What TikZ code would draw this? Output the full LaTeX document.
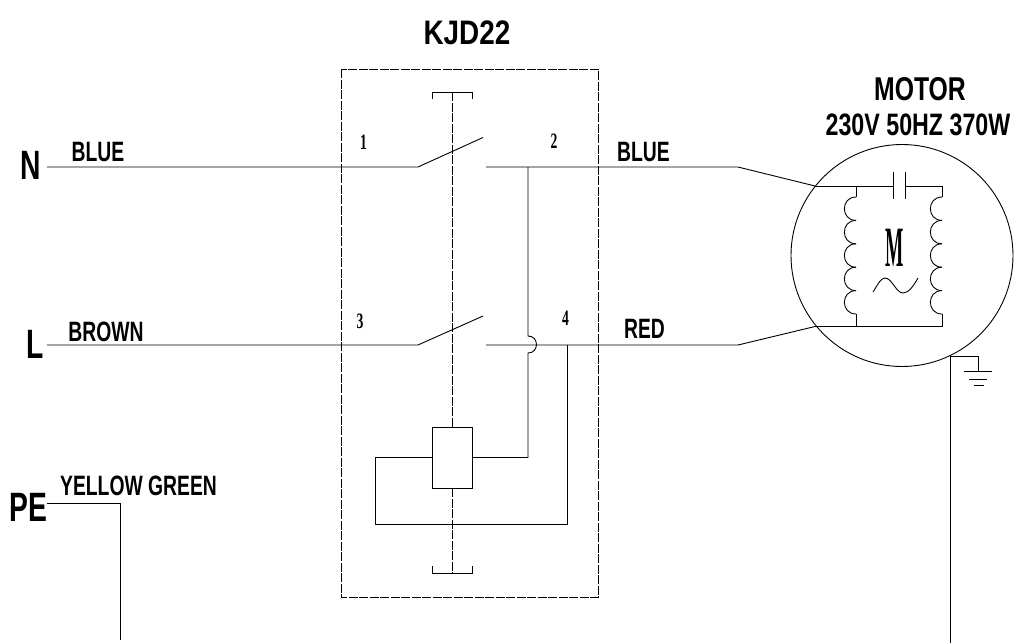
\documentclass[tikz,border=0pt]{standalone}
\usepackage{fontspec}
\setmainfont[FakeStretch=0.69]{Liberation Sans}
\newfontfamily\titlefont[FakeStretch=0.82]{Liberation Sans}
\newfontfamily\ratefont[FakeStretch=0.75]{Liberation Sans}
\newfontfamily\numfont[FakeStretch=0.62]{Liberation Serif}
\newfontfamily\symfont[FakeStretch=0.34]{Liberation Serif}
\usetikzlibrary{shapes}

\begin{document}
\begin{tikzpicture}
[x=1pt,y=-1pt,line width=0.9pt,%
  lineDecorate/.style={-,line width=0.9pt},%
  axisDecorate/.style={-,line width=0.9pt,dash pattern=on 9pt off 1.5pt},%
  boxDecorate/.style={-,line width=0.9pt,dash pattern=on 9pt off 1.5pt},%
  relayDecorate/.style={shape=rectangle,draw,fill=white,inner sep=0pt,minimum width=40pt,minimum height=61pt},%
  motorDecorate/.style={shape=circle,draw,inner sep=0pt,minimum size=222pt},%
  termLabel/.style={anchor=base,inner sep=0pt,font=\bfseries\fontsize{41}{41}\selectfont},%
  wireLabel/.style={anchor=base,inner sep=0pt,font=\bfseries\fontsize{28}{28}\selectfont},%
  motorLabel/.style={anchor=base,inner sep=0pt,font=\ratefont\bfseries\fontsize{33}{33}\selectfont},%
  rateLabel/.style={anchor=base,inner sep=0pt,font=\ratefont\bfseries\fontsize{31}{31}\selectfont},%
  titleLabel/.style={anchor=base,inner sep=0pt,font=\titlefont\bfseries\fontsize{34}{34}\selectfont},%
  pinLabel/.style={anchor=base,inner sep=0pt,font=\numfont\bfseries\fontsize{22}{22}\selectfont}]
\useasboundingbox (0,0) rectangle (1017,643);
%% nodes
\node[motorDecorate] (motor) at (902,255.5) {};
\node[relayDecorate] (relay) at (452,457.5) {};
%% points on the wires
\foreach \nodename/\x/\y in {
  boxA/341/69, boxB/598/597,
  inN/47/167, swNa/418/167, swNb/483/137.5, outN/486/167, tapN/528/167, bendN/738/167,
  inL/47/345, swLa/418/345, swLb/483/316, outL/486/345, bendL/738/345,
  bumpA/528/336, bumpB/528/353, tapL/567/345,
  loopA/375/457.5, loopB/375/524, loopC/567/524, feedA/528/457.5,
  axisT/452/92, axisB/452/573,
  brTa/432/99, brTb/432/92, brTc/472/92, brTd/472/99,
  brBa/432/566, brBb/432/573, brBc/472/573, brBd/472/566,
  mTopL/815/186, capL/893.5/186, capR/905/186, mTopR/942/186, mTopS/856/186,
  capLa/893.5/172, capLb/893.5/199, capRa/905/172, capRb/905/199,
  mBotL/815/326.5, mBotM/856/326.5, mBotR/942/326.5,
  coilLa/856/197, coilRa/942/197, coilLb/856/314, coilRb/942/314,
  peA/47/503, peB/120/503, peC/120/640,
  gndA/950/356, gndB/978/356, gndC/978/371, gndD/950/643,
  gA/964/371, gB/992/371, gC/969/379, gD/987/379, gE/974/385, gF/984/385,
  sinA/873/292, sinB/918/278}
{
  \coordinate (\nodename) at (\x,\y);
}
%% dashed enclosure and linkage
\draw[boxDecorate] (boxA) rectangle (boxB);
\draw[axisDecorate] (axisT) -- (relay.north);
\draw[axisDecorate] (relay.south) -- (axisB);
\draw[lineDecorate] (brTa) -- (brTb) -- (brTc) -- (brTd);
\draw[lineDecorate] (brBa) -- (brBb) -- (brBc) -- (brBd);
%% supply wires and contacts
\draw[lineDecorate] (inN) -- (swNa) -- (swNb);
\draw[lineDecorate] (outN) -- (bendN) -- (mTopL);
\draw[lineDecorate] (inL) -- (swLa) -- (swLb);
\draw[lineDecorate] (outL) -- (bendL) -- (mBotL);
%% relay coil feed
\draw[lineDecorate] (tapN) -- (bumpA) to[out=0,in=0,looseness=1.7] (bumpB) -- (feedA) -- (relay.east);
\draw[lineDecorate] (relay.west) -- (loopA) -- (loopB) -- (loopC) -- (tapL);
%% motor windings
\draw[lineDecorate] (mTopL) -- (capL);
\draw[lineDecorate] (capR) -- (mTopR) -- (coilRa);
\draw[lineDecorate] (capLa) -- (capLb);
\draw[lineDecorate] (capRa) -- (capRb);
\draw[lineDecorate] (mTopS) -- (coilLa);
\draw[lineDecorate] (mBotL) -- (mBotR) -- (coilRb);
\draw[lineDecorate] (mBotM) -- (coilLb);
\foreach \xcoil in {856,942}
{
  \foreach \ycoil in {0,1,2,3,4}
  {
    \draw[lineDecorate] (\xcoil,197+23.4*\ycoil) to[out=180,in=180,looseness=1.7] (\xcoil,197+23.4*\ycoil+23.4);
  }
}
\draw[lineDecorate] (sinA) .. controls (878,284) and (881,278) .. (885,278)
  .. controls (892,278) and (896,293) .. (903,293)
  .. controls (909,293) and (914,285) .. (sinB);
%% earth wires
\draw[lineDecorate] (peA) -- (peB) -- (peC);
\draw[lineDecorate] (gndD) -- (gndA) -- (gndB) -- (gndC);
\draw[lineDecorate] (gA) -- (gB);
\draw[lineDecorate] (gC) -- (gD);
\draw[lineDecorate] (gE) -- (gF);
%% labels
\foreach \nodename/\x/\y/\labelstyle/\labeltext in {
  tN/30.5/179/termLabel/N, tL/35/358/termLabel/L, tPE/28.5/521/termLabel/PE,
  wBlueN/98/161/wireLabel/BLUE, wBrown/106/341/wireLabel/BROWN, wYG/138.5/495/wireLabel/YELLOW GREEN,
  wBlueO/643.5/161/wireLabel/BLUE, wRed/644.5/338/wireLabel/RED,
  tKJD/467/44/titleLabel/KJD22, tMotor/920/100/motorLabel/MOTOR, tRate/918/135/rateLabel/230V 50HZ 370W,
  p1/363.5/149/pinLabel/1, p2/554/148/pinLabel/2, p3/360/328/pinLabel/3, p4/565.5/325/pinLabel/4}
{
  \node[\labelstyle] (\nodename) at (\x,\y) {\labeltext};
}
\node[anchor=base,inner sep=0pt,font=\symfont\bfseries\fontsize{57}{57}\selectfont] (tM) at (895,266) {M};
\end{tikzpicture}
\end{document}
